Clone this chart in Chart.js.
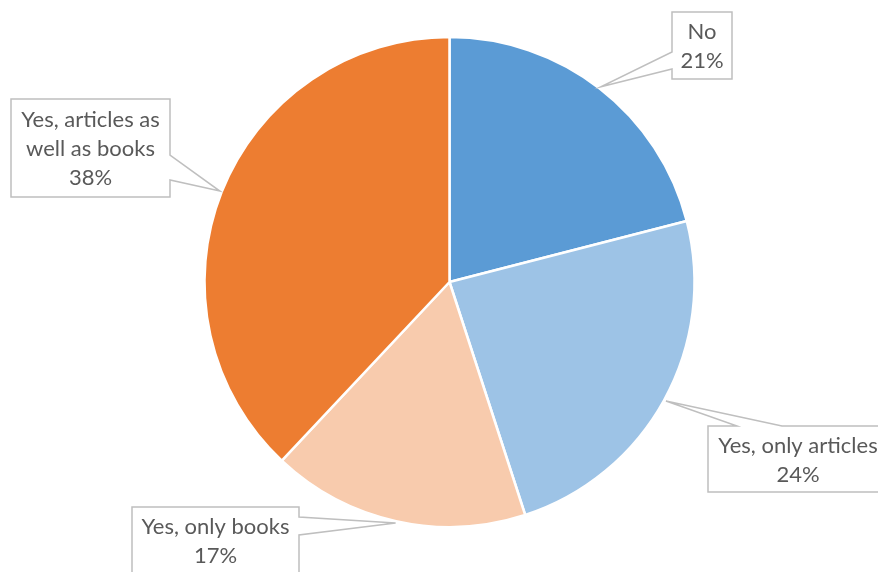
<!DOCTYPE html>
<html>
<head>
<meta charset="utf-8">
<script src="https://cdn.jsdelivr.net/npm/chart.js@4/dist/chart.umd.min.js"></script>
<style>
    html, body { margin: 0; padding: 0; background: #fff; }
    #wrap { width: 878px; height: 572px; }
</style>
</head>
<body>
<div id="wrap"><canvas id="pie" width="878" height="572"></canvas></div>
<script>
// Data
let categories = ["No", "Yes, only articles", "Yes, only books", "Yes, articles as well as books"];
let shares = [21, 24, 17, 38];
let labelLines = [["No"], ["Yes, only articles"], ["Yes, only books"], ["Yes, articles as", "well as books"]];

let sliceColors = ["#5B9BD5", "#9DC3E6", "#F8CBAD", "#ED7D31"];

// Callout boxes: box position/size plus which edge the pointer leaves from
let calloutBoxes = [
    { x: 672, y: 12, w: 60, h: 67, edge: "left", b1: 40, b2: 57 },
    { x: 708, y: 426, w: 180, h: 66, edge: "top", b1: 29, b2: 74 },
    { x: 132, y: 507, w: 167, h: 66, edge: "right", b1: 10, b2: 28 },
    { x: 11, y: 99, w: 159, h: 98, edge: "right", b1: 56, b2: 81 }
];

const calloutPlugin = {
    id: "callouts",
    afterDatasetsDraw(chart) {
        const ctx = chart.ctx;
        const arcs = chart.getDatasetMeta(0).data;
        arcs.forEach(function (arc, i) {
            const mid = (arc.startAngle + arc.endAngle) / 2;
            const tx = arc.x + Math.cos(mid) * (arc.outerRadius + 2);
            const ty = arc.y + Math.sin(mid) * (arc.outerRadius + 2);
            const b = calloutBoxes[i];
            const x0 = b.x, y0 = b.y, x1 = b.x + b.w, y1 = b.y + b.h;

            ctx.save();
            ctx.beginPath();
            ctx.moveTo(x0, y0);
            if (b.edge === "top") {
                ctx.lineTo(x0 + b.b1, y0);
                ctx.lineTo(tx, ty);
                ctx.lineTo(x0 + b.b2, y0);
            }
            ctx.lineTo(x1, y0);
            if (b.edge === "right") {
                ctx.lineTo(x1, y0 + b.b1);
                ctx.lineTo(tx, ty);
                ctx.lineTo(x1, y0 + b.b2);
            }
            ctx.lineTo(x1, y1);
            ctx.lineTo(x0, y1);
            if (b.edge === "left") {
                ctx.lineTo(x0, y0 + b.b2);
                ctx.lineTo(tx, ty);
                ctx.lineTo(x0, y0 + b.b1);
            }
            ctx.closePath();
            ctx.fillStyle = "#FFFFFF";
            ctx.fill();
            ctx.lineWidth = 1.5;
            ctx.strokeStyle = "#BFBFBF";
            ctx.lineJoin = "miter";
            ctx.stroke();

            // Text
            const lines = labelLines[i].concat([shares[i] + "%"]);
            const lh = 29;
            const cx = x0 + b.w / 2;
            const cy = y0 + b.h / 2;
            ctx.fillStyle = "#595959";
            ctx.font = "22px Lato, 'Open Sans', sans-serif";
            ctx.textAlign = "center";
            ctx.textBaseline = "middle";
            lines.forEach(function (t, k) {
                ctx.fillText(t, cx, cy + (k - (lines.length - 1) / 2) * lh + 1);
            });
            ctx.restore();
        });
    }
};

new Chart(document.getElementById("pie").getContext("2d"), {
    type: "pie",
    data: {
        labels: categories,
        datasets: [{
            data: shares,
            backgroundColor: sliceColors,
            borderColor: "#FFFFFF",
            borderWidth: 2.5,
            radius: 245
        }]
    },
    options: {
        responsive: false,
        animation: false,
        layout: {
            padding: { left: 204, right: 183, top: 37, bottom: 45 }
        },
        plugins: {
            legend: { display: false },
            tooltip: { enabled: false }
        }
    },
    plugins: [calloutPlugin]
});
</script>
</body>
</html>
